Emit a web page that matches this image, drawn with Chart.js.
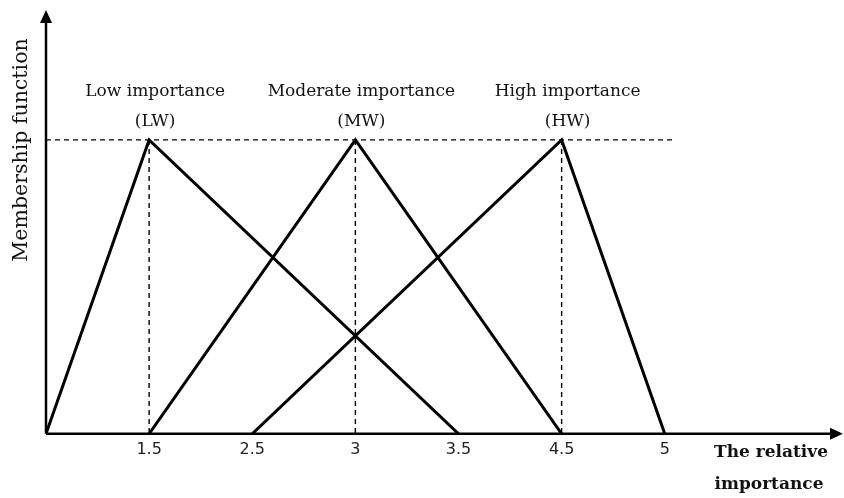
<!DOCTYPE html>
<html>
<head>
<meta charset="utf-8">
<script src="https://cdn.jsdelivr.net/npm/chart.js@4/dist/chart.umd.min.js"></script>
<style>
  html, body { margin: 0; padding: 0; background: #fff; }
  #wrap { width: 844px; height: 498px; }
</style>
</head>
<body>
<div id="wrap"><canvas id="chart"></canvas></div>
<script>
// x axis is a sketch, not to scale: ticks sit at even steps
const tickValues = [0, 1.5, 2.5, 3, 3.5, 4.5, 5];
const tickLabels = ['', '1.5', '2.5', '3', '3.5', '4.5', '5'];

const setNames = ['Low importance', 'Moderate importance', 'High importance'];
const setCodes = ['(LW)', '(MW)', '(HW)'];
const lwX = [0, 1.5, 3.5];
const mwX = [1.5, 3, 4.5];
const hwX = [2.5, 4.5, 5];
const membership = [0, 1, 0];

const dashEnd = 6.08; // where the dashed peak line stops (axis steps)

const pos = v => tickValues.indexOf(v);
const tri = xs => xs.map((x, i) => ({ x: pos(x), y: membership[i] }));
const series = [lwX, mwX, hwX];

const datasets = [];
series.forEach(xs => {
  const peak = xs[membership.indexOf(1)];
  datasets.push({
    data: [{ x: pos(peak), y: 1 }, { x: pos(peak), y: 0 }],
    borderColor: '#000', borderWidth: 1.4, borderDash: [5, 4], pointRadius: 0
  });
});
datasets.push({
  data: [{ x: 0, y: 1 }, { x: dashEnd, y: 1 }],
  borderColor: '#000', borderWidth: 1.4, borderDash: [5, 4], pointRadius: 0
});
series.forEach(xs => {
  datasets.push({
    data: tri(xs),
    borderColor: '#000', borderWidth: 3, pointRadius: 0, tension: 0
  });
});

const sketch = {
  id: 'sketch',
  afterDatasetsDraw(chart) {
    const { ctx, chartArea: a, scales: { x, y } } = chart;
    const right = chart.width - 1;
    ctx.save();
    ctx.strokeStyle = '#000';
    ctx.fillStyle = '#000';
    ctx.lineWidth = 2.5;
    const x0 = x.getPixelForValue(0), y0 = y.getPixelForValue(0);
    ctx.beginPath();
    ctx.moveTo(x0, y0); ctx.lineTo(x0, a.top + 10);
    ctx.moveTo(x0, y0); ctx.lineTo(right - 10, y0);
    ctx.stroke();
    ctx.beginPath();
    ctx.moveTo(x0, a.top); ctx.lineTo(x0 - 6, a.top + 13); ctx.lineTo(x0 + 6, a.top + 13); ctx.closePath();
    ctx.moveTo(right, y0); ctx.lineTo(right - 13, y0 - 6); ctx.lineTo(right - 13, y0 + 6); ctx.closePath();
    ctx.fill();

    ctx.fillStyle = '#111';
    ctx.textAlign = 'center';
    ctx.textBaseline = 'middle';
    ctx.font = '17px "DejaVu Serif"';
    const py = y.getPixelForValue(1);
    series.forEach((xs, i) => {
      const px = x.getPixelForValue(pos(xs[membership.indexOf(1)])) + 6;
      ctx.fillText(setNames[i], px, py - 48);
      ctx.fillText(setCodes[i], px, py - 18);
    });

    ctx.font = 'bold 17px "DejaVu Serif"';
    ctx.fillText('The relative', 771, 453);
    ctx.fillText('importance', 769, 485);

    ctx.translate(22, 150);
    ctx.rotate(-Math.PI / 2);
    ctx.font = '20.5px "DejaVu Serif"';
    ctx.fillText('Membership function', 0, 0);
    ctx.restore();
  }
};

new Chart(document.getElementById('chart'), {
  type: 'line',
  data: { datasets },
  options: {
    responsive: true,
    maintainAspectRatio: false,
    animation: false,
    layout: { padding: { left: 46, right: 1, top: 10, bottom: 33 } },
    plugins: { legend: { display: false }, tooltip: { enabled: false } },
    scales: {
      x: {
        type: 'linear', min: 0, max: 7.68,
        grid: { display: false, drawTicks: false },
        border: { display: false },
        ticks: {
          stepSize: 1, autoSkip: false, maxRotation: 0, padding: 6,
          color: '#222', font: { family: 'DejaVu Sans', size: 16 },
          callback: v => tickLabels[v] ?? ''
        }
      },
      y: { type: 'linear', min: 0, max: 1.442, display: false }
    }
  },
  plugins: [sketch]
});
</script>
</body>
</html>
